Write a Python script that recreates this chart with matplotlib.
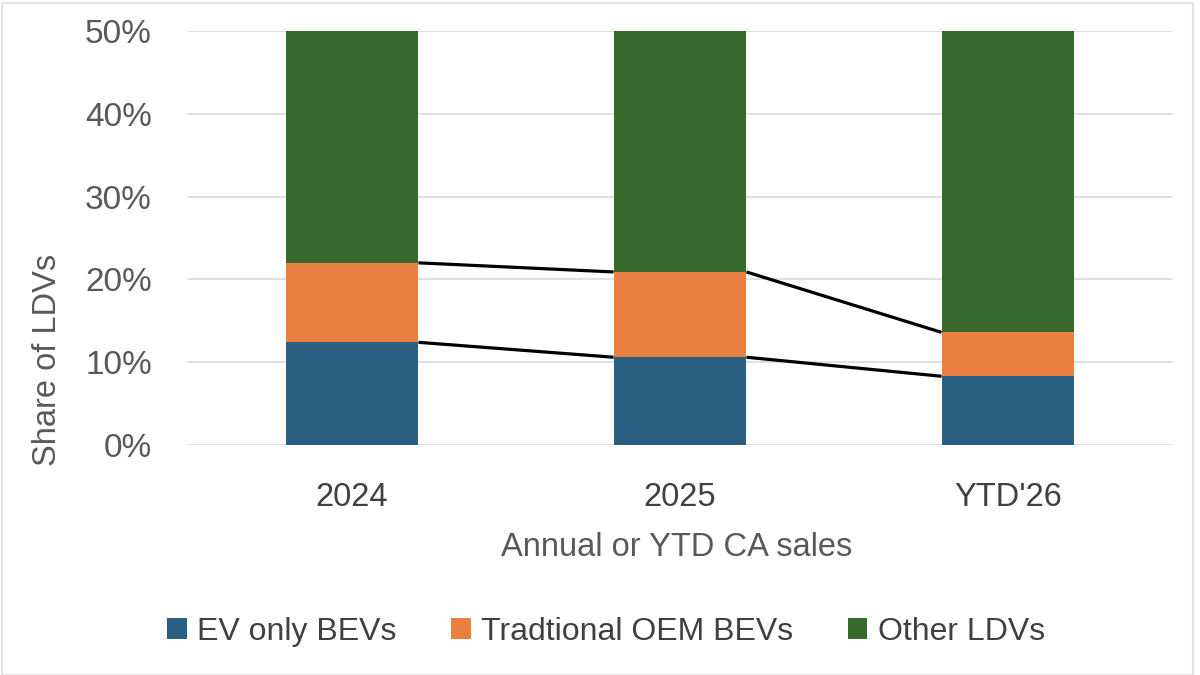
import matplotlib.pyplot as plt
from matplotlib.patches import Rectangle
import numpy as np

categories = ["2024", "2025", "YTD'26"]
ev_only = [12.4, 10.6, 8.3]
traditional = [9.6, 10.3, 5.3]
series_names = ["EV only BEVs", "Tradtional OEM BEVs", "Other LDVs"]
y_ticks = [0, 10, 20, 30, 40, 50]

ev_only = np.array(ev_only)
traditional = np.array(traditional)
other = 100 - ev_only - traditional

colors = ["#2B5F82", "#E97F40", "#356A2C"]
grey = "#595959"
font = ["Liberation Sans", "DejaVu Sans"]
plt.rcParams["font.family"] = font

fig = plt.figure(figsize=(12, 6.75), dpi=100)
ax = fig.add_axes([188 / 1200, 1 - 445 / 675, 984 / 1200, 414 / 675])

x = np.arange(len(categories))
w = 0.405
ax.bar(x, ev_only, w, color=colors[0], label=series_names[0], zorder=3)
ax.bar(x, traditional, w, bottom=ev_only, color=colors[1], label=series_names[1], zorder=3)
ax.bar(x, other, w, bottom=ev_only + traditional, color=colors[2], label=series_names[2], zorder=3)

# series lines between bars
for tops in [ev_only, ev_only + traditional]:
    for i in range(len(x) - 1):
        ax.plot([x[i] + w / 2, x[i + 1] - w / 2], [tops[i], tops[i + 1]],
                color="black", lw=2.3, zorder=4, solid_capstyle="butt")

ax.set_xlim(-0.5, len(x) - 0.5)
ax.set_ylim(0, 50)
ax.set_yticks(y_ticks)
ax.set_yticklabels([f"{t}%" for t in y_ticks])
ax.set_xticks(x)
ax.set_xticklabels(categories)
ax.grid(axis="y", color="#DDDDDD", lw=1.3, zorder=0)
ax.tick_params(axis="y", length=0, labelsize=24, labelcolor=grey, pad=26)
ax.tick_params(axis="x", length=0, labelsize=23.5, labelcolor="#404040", pad=27)
for s in ax.spines.values():
    s.set_visible(False)

fig.text(677 / 1200, 1 - 547 / 675, "Annual or YTD CA sales", ha="center", va="center",
         fontsize=23.5, color=grey)
fig.text(48 / 1200, 1 - 360 / 675, "Share of LDVs", ha="center", va="center",
         rotation=90, fontsize=23.5, color=grey)

handles, labels = ax.get_legend_handles_labels()
fig.legend(handles, labels, loc="center", bbox_to_anchor=(606 / 1200, 1 - 632 / 675),
           ncol=3, frameon=False, fontsize=23, labelcolor="#404040",
           handlelength=0.62, handleheight=0.65, handletextpad=0.32, columnspacing=1.7)

# faint chart border
fig.patches.append(Rectangle((2 / 1200, 0.0), 1191 / 1200, 0.995, transform=fig.transFigure,
                             fill=False, ec="#E3E3E3", lw=1.5))

fig.savefig("out.png", dpi=100, facecolor="white")
